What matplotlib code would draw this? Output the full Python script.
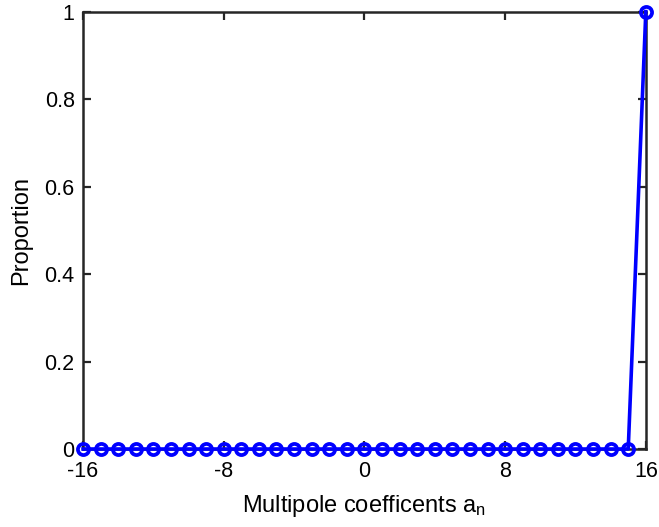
import matplotlib
matplotlib.use("Agg")
import matplotlib.pyplot as plt

plt.rcParams['font.family'] = ['Liberation Sans', 'DejaVu Sans']
plt.rcParams['mathtext.fontset'] = 'custom'
plt.rcParams['mathtext.rm'] = 'Liberation Sans'
plt.rcParams['mathtext.it'] = 'Liberation Sans:italic'

coeff_index = [-16, -15, -14, -13, -12, -11, -10, -9, -8, -7, -6, -5, -4, -3, -2, -1,
               0, 1, 2, 3, 4, 5, 6, 7, 8, 9, 10, 11, 12, 13, 14, 15, 16]
proportion = [0, 0, 0, 0, 0, 0, 0, 0, 0, 0, 0, 0, 0, 0, 0, 0,
              0, 0, 0, 0, 0, 0, 0, 0, 0, 0, 0, 0, 0, 0, 0, 0, 1]
x_ticks = [-16, -8, 0, 8, 16]
x_tick_labels = ['-16', '-8', '0', '8', '16']
y_ticks = [0, 0.2, 0.4, 0.6, 0.8, 1]
y_tick_labels = ['0', '0.2', '0.4', '0.6', '0.8', '1']

fig = plt.figure(figsize=(6.59, 5.27), dpi=100)
ax = fig.add_axes([0.126, 0.148, 0.854, 0.830])

ax.plot(coeff_index, proportion, color=(0, 0, 1), linewidth=2.6,
        marker='o', markersize=8, markerfacecolor='none',
        markeredgecolor=(0, 0, 1), markeredgewidth=2.7, clip_on=False, zorder=3)

ax.set_xlim(-16, 16)
ax.set_ylim(0, 1)
ax.set_xticks(x_ticks)
ax.set_xticklabels(x_tick_labels)
ax.set_yticks(y_ticks)
ax.set_yticklabels(y_tick_labels)

edge = (0.15, 0.15, 0.15)
for s in ax.spines.values():
    s.set_color(edge)
    s.set_linewidth(1.8)
ax.tick_params(direction='in', length=6, width=1.6, colors=edge,
               labelcolor='black', labelsize=15.5, top=True, right=True)
ax.tick_params(axis='x', pad=8.5)
ax.tick_params(axis='y', pad=6)

ax.set_xlabel('Multipole coefficents a$_{\\mathrm{n}}$', fontsize=17, labelpad=8)
ax.set_ylabel('Proportion', fontsize=17, labelpad=9)

fig.savefig('out.png', dpi=100)
